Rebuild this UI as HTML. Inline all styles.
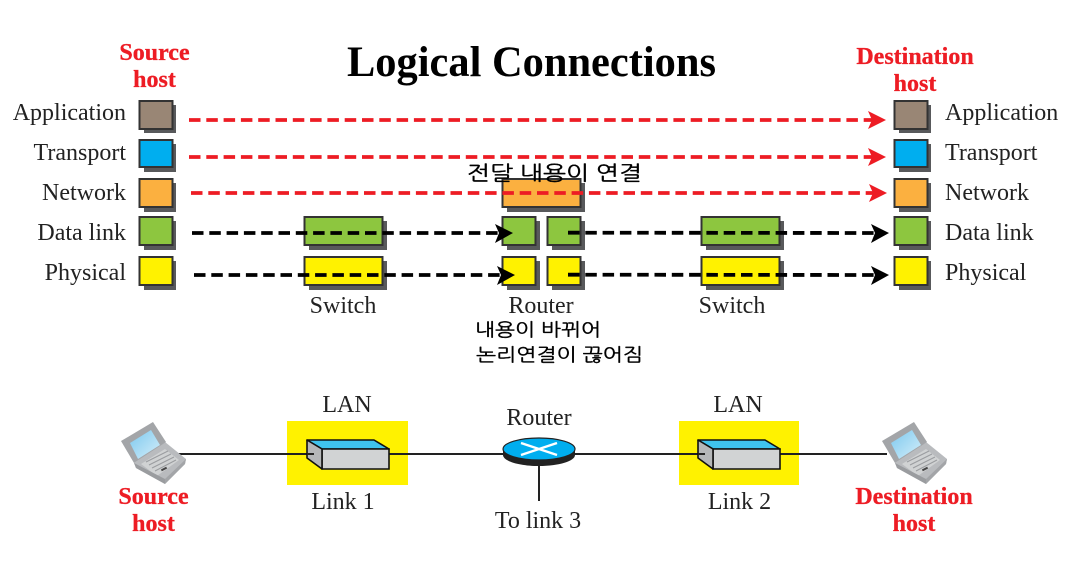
<!DOCTYPE html>
<html><head><meta charset="utf-8">
<style>
html,body{margin:0;padding:0;background:#fff;width:1074px;height:569px;overflow:hidden}
svg{display:block}
.l{font:24px "Liberation Serif",serif;fill:#222}
.r{font:bold 24px "Liberation Serif",serif;fill:#ed1c24;stroke:#ed1c24;stroke-width:.3}
.k{font:20px "NanumGothic","Noto Sans CJK KR",sans-serif;fill:#000;stroke:#000;stroke-width:.35}
.box{stroke:#333;stroke-width:2}
.sh{fill:#58595b}
.dr{stroke:#ed1c24;stroke-width:3.8;stroke-dasharray:11.5 5.8;fill:none}
.db{stroke:#000;stroke-width:3.8;stroke-dasharray:11.5 5.8;fill:none}
</style></head><body>
<svg width="1074" height="569" viewBox="0 0 1074 569" xmlns="http://www.w3.org/2000/svg">
<defs>
<linearGradient id="scr" x1="0" y1="0" x2="1" y2="1"><stop offset="0" stop-color="#7cc8ee"/><stop offset="1" stop-color="#d4eefa"/></linearGradient>
<g id="laptop">
<polygon points="134,463 165,442 186,459 185,464 165,484 136,468" fill="#b9bbbe"/>
<polygon points="121,441 153,422 166,442 134,463" fill="#a3a5a8"/>
<polygon points="130,443 151,430 160,445 138,459" fill="url(#scr)"/>
<polygon points="141,464 165,449 179,460 157,476" fill="#d0d2d3"/>
<path d="M146,462 L168,451 M149,465 L171,454 M152,468 L174,457 M155,471 L176,460" stroke="#9a9c9f" stroke-width="1" fill="none"/>
<polygon points="134,463 136,468 165,484 165,479" fill="#9a9c9f"/>
<polygon points="165,479 165,484 185,464 186,459" fill="#a3a5a8"/>
<rect x="161" y="468" width="6" height="2" fill="#444" transform="rotate(-28 164 469)"/>
</g>
<g id="swb">
<polygon points="0,0 67,0 82,9 15,9" fill="#3fc3ee" stroke="#111" stroke-width="1.6" stroke-linejoin="round"/>
<polygon points="15,9 82,9 82,29 15,29" fill="#d1d3d4" stroke="#111" stroke-width="1.6"/>
<polygon points="0,0 15,9 15,29 0,18" fill="#b5b7b9" stroke="#111" stroke-width="1.6" stroke-linejoin="round"/>
</g>
</defs>

<rect width="1074" height="569" fill="#fff"/>

<!-- left stack -->
<rect x="144" y="105" width="32" height="28" class="sh"/><rect x="139.500" y="101" width="33" height="28" fill="#998675" class="box"/>
<rect x="144" y="144" width="32" height="28" class="sh"/><rect x="139.500" y="140" width="33" height="27" fill="#00aeef" class="box"/>
<rect x="144" y="183" width="32" height="29" class="sh"/><rect x="139.500" y="179" width="33" height="28" fill="#fbb040" class="box"/>
<rect x="144" y="221" width="32" height="29" class="sh"/><rect x="139.500" y="217" width="33" height="28" fill="#8dc63f" class="box"/>
<rect x="144" y="261" width="32" height="29" class="sh"/><rect x="139.500" y="257" width="33" height="28" fill="#fff200" class="box"/>

<!-- right stack -->
<rect x="899" y="105" width="32" height="28" class="sh"/><rect x="894.500" y="101" width="33" height="28" fill="#998675" class="box"/>
<rect x="899" y="144" width="32" height="28" class="sh"/><rect x="894.500" y="140" width="33" height="27" fill="#00aeef" class="box"/>
<rect x="899" y="183" width="32" height="29" class="sh"/><rect x="894.500" y="179" width="33" height="28" fill="#fbb040" class="box"/>
<rect x="899" y="221" width="32" height="29" class="sh"/><rect x="894.500" y="217" width="33" height="28" fill="#8dc63f" class="box"/>
<rect x="899" y="261" width="32" height="29" class="sh"/><rect x="894.500" y="257" width="33" height="28" fill="#fff200" class="box"/>

<!-- switches -->
<rect x="309" y="221" width="78" height="29" class="sh"/><rect x="304.500" y="217" width="78" height="28" fill="#8dc63f" class="box"/>
<rect x="309" y="261" width="78" height="29" class="sh"/><rect x="304.500" y="257" width="78" height="28" fill="#fff200" class="box"/>
<rect x="706" y="221" width="78" height="29" class="sh"/><rect x="701.500" y="217" width="78" height="28" fill="#8dc63f" class="box"/>
<rect x="706" y="261" width="78" height="29" class="sh"/><rect x="701.500" y="257" width="78" height="28" fill="#fff200" class="box"/>

<!-- router stack -->
<rect x="507" y="183" width="78" height="29" class="sh"/><rect x="502.500" y="179" width="78" height="28" fill="#fbb040" class="box"/>
<rect x="507" y="221" width="33" height="29" class="sh"/><rect x="502.500" y="217" width="33" height="28" fill="#8dc63f" class="box"/>
<rect x="552" y="221" width="33" height="29" class="sh"/><rect x="547.500" y="217" width="33" height="28" fill="#8dc63f" class="box"/>
<rect x="507" y="261" width="33" height="29" class="sh"/><rect x="502.500" y="257" width="33" height="28" fill="#fff200" class="box"/>
<rect x="552" y="261" width="33" height="29" class="sh"/><rect x="547.500" y="257" width="33" height="28" fill="#fff200" class="box"/>

<!-- connectors -->
<line x1="189" y1="120" x2="872" y2="120" class="dr"/>
<polygon points="868,111 886,120 868,129 872,120" fill="#ed1c24"/>
<line x1="189" y1="157" x2="872" y2="157" class="dr"/>
<polygon points="868,148 886,157 868,166 872,157" fill="#ed1c24"/>
<line x1="191" y1="193" x2="873" y2="193" class="dr"/>
<polygon points="869,184 887,193 869,202 873,193" fill="#ed1c24"/>

<line x1="192" y1="233" x2="499" y2="233" class="db"/>
<polygon points="495,224 513,233 495,243 499,233" fill="#000"/>
<line x1="194" y1="275" x2="501" y2="275" class="db"/>
<polygon points="497,266 515,275 497,285 501,275" fill="#000"/>
<line x1="568" y1="232.700" x2="875" y2="233" class="db"/>
<polygon points="871,224 889,233 871,243 875,233" fill="#000"/>
<line x1="568" y1="274.700" x2="875" y2="275" class="db"/>
<polygon points="871,266 889,275 871,285 875,275" fill="#000"/>

<!-- title + labels -->
<text x="347" y="76" textLength="369" lengthAdjust="spacingAndGlyphs" style="font:bold 43px 'Liberation Serif',serif" fill="#000">Logical Connections</text>
<text x="154.500" y="60" text-anchor="middle" class="r">Source</text>
<text x="154.500" y="87" text-anchor="middle" class="r">host</text>
<text x="915" y="64" text-anchor="middle" class="r">Destination</text>
<text x="915" y="91" text-anchor="middle" class="r">host</text>

<text x="126" y="120" text-anchor="end" class="l">Application</text>
<text x="126" y="160" text-anchor="end" class="l">Transport</text>
<text x="126" y="200" text-anchor="end" class="l">Network</text>
<text x="126" y="240" text-anchor="end" class="l">Data link</text>
<text x="126" y="280" text-anchor="end" class="l">Physical</text>
<text x="945" y="120" class="l">Application</text>
<text x="945" y="160" class="l">Transport</text>
<text x="945" y="200" class="l">Network</text>
<text x="945" y="240" class="l">Data link</text>
<text x="945" y="280" class="l">Physical</text>

<text x="343" y="313" text-anchor="middle" class="l">Switch</text>
<text x="541" y="313" text-anchor="middle" class="l">Router</text>
<text x="732" y="313" text-anchor="middle" class="l">Switch</text>

<text x="467" y="180" textLength="175" lengthAdjust="spacingAndGlyphs" class="k">전달 내용이 연결</text>
<text x="475" y="336" textLength="126" lengthAdjust="spacingAndGlyphs" class="k" style="font-size:18px">내용이 바뀌어</text>
<text x="476" y="361" textLength="167" lengthAdjust="spacingAndGlyphs" class="k" style="font-size:18px">논리연결이 끊어짐</text>

<!-- bottom network -->
<rect x="287" y="421" width="121" height="64" fill="#fff200"/>
<rect x="679" y="421" width="120" height="64" fill="#fff200"/>
<line x1="177" y1="454" x2="887" y2="454" stroke="#222" stroke-width="2"/>
<line x1="539" y1="462" x2="539" y2="501" stroke="#222" stroke-width="2"/>

<use href="#swb" x="307" y="440"/>
<use href="#swb" x="698" y="440"/>
<line x1="307" y1="454" x2="314" y2="454" stroke="#222" stroke-width="2"/>
<line x1="698" y1="454" x2="705" y2="454" stroke="#222" stroke-width="2"/>

<!-- router -->
<path d="M503,449 v6 c0,6 16,11 36,11 s36,-5 36,-11 v-6 z" fill="#222"/>
<ellipse cx="539" cy="449" rx="36" ry="11" fill="#00aeef" stroke="#222" stroke-width="1.2"/>
<path d="M521,455 L557,443 M521,443 L557,455" stroke="#fff" stroke-width="2.4" fill="none"/>

<!-- laptops -->
<use href="#laptop"/>
<use href="#laptop" x="761"/>

<text x="347" y="412" text-anchor="middle" class="l">LAN</text>
<text x="738" y="412" text-anchor="middle" class="l">LAN</text>
<text x="343" y="509" text-anchor="middle" class="l">Link 1</text>
<text x="739.500" y="509" text-anchor="middle" class="l">Link 2</text>
<text x="539" y="425" text-anchor="middle" class="l">Router</text>
<text x="538" y="528" text-anchor="middle" class="l">To link 3</text>
<text x="153.500" y="504" text-anchor="middle" class="r">Source</text>
<text x="153.500" y="531" text-anchor="middle" class="r">host</text>
<text x="914" y="504" text-anchor="middle" class="r">Destination</text>
<text x="914" y="531" text-anchor="middle" class="r">host</text>
</svg>
</body></html>
